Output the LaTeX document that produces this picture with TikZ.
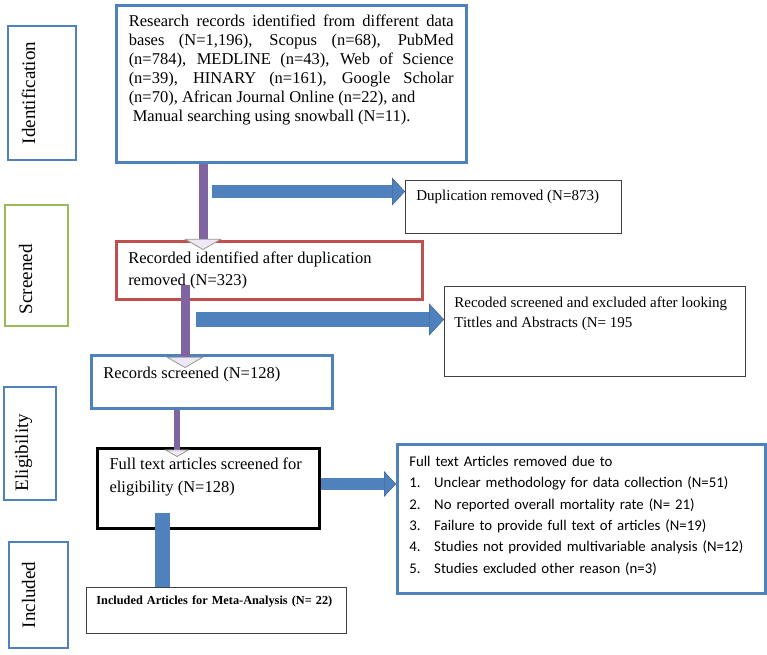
\documentclass[tikz,border=0pt]{standalone}
\usepackage{fontspec}
\setmainfont{Liberation Serif}
\newfontfamily\calibri{Carlito}
\usetikzlibrary{arrows.meta}
\definecolor{blueA}{HTML}{4F81BD}
\definecolor{blueD}{HTML}{385D8A}
\definecolor{redA}{HTML}{C0504D}
\definecolor{greenA}{HTML}{9BBB59}
\definecolor{purpleA}{HTML}{8064A2}
\definecolor{purpleL}{HTML}{EDE8F3}
\tolerance=9999
\hyphenpenalty=10000

\begin{document}
\begin{tikzpicture}[
    x=1pt, y=-1pt,
    box/.style={rectangle, draw, anchor=north west, align=justify, text height=12pt, font=\fontsize{16.5}{19}\selectfont},
    thinbox/.style={box, draw=black!75, line width=0.8pt, text height=11pt, font=\fontsize{15}{20}\selectfont},
    stage/.style={rectangle, draw=blueA, line width=2.5pt, rotate=90, inner sep=0pt, font=\fontsize{19}{20}\selectfont},
    bluearrow/.style={draw=blueA, line width=13pt, -{Triangle[length=0pt 1, width=0pt 2.15, line width=0.4pt, color=blueD, fill=blueA]}},
    purplearrow/.style={draw=purpleA, line width=9pt, -{Triangle[length=0pt 1.25, width=0pt 4.3, line width=0.8pt, color=black!40, fill=purpleL]}},
    bluebar/.style={draw=blueA, line width=15pt}
]
\useasboundingbox (0,0) rectangle (767,654);

% stages (left)
\node[stage, minimum width=134pt, text height=27pt, text depth=41pt] (ident) at (42,93) {Identification};
\node[stage, draw=greenA, minimum width=121pt, text width=121pt, align=left, text height=27pt, text depth=36pt] (screen) at (36.5,265.5) {\hspace*{12pt}Screened};
\node[stage, minimum width=113pt, text width=113pt, align=left, text height=24pt, text depth=28pt] (elig) at (30,443.5) {\hspace*{9pt}Eligibility};
\node[stage, minimum width=106pt, text height=26pt, text depth=33pt] (incl) at (38.5,595) {Included};

% main flow
\node[box, draw=blueA, line width=2.5pt, text width=325pt, inner xsep=12.5pt, inner ysep=9pt, text depth=127pt] (records) at (115,4)
    {Research records identified from different data\linebreak bases (N=1,196), Scopus (n=68), PubMed\linebreak (n=784), MEDLINE (n=43), Web of Science\linebreak (n=39), HINARY (n=161), Google Scholar\linebreak (n=70), African Journal Online (n=22), and\\ \hspace*{4pt}Manual searching using snowball (N=11).};

\node[box, draw=redA, line width=2.5pt, text width=282pt, inner xsep=12pt, inner ysep=10pt, text depth=26pt, font=\fontsize{16.5}{22}\selectfont] (dedup) at (115,240)
    {Recorded identified after duplication\\ removed (N=323)};

\node[box, draw=blueA, line width=2.5pt, text width=217pt, inner xsep=12pt, inner ysep=11pt, text depth=19pt] (screened) at (90,354)
    {Records screened (N=128)};

\node[box, draw=black, line width=3pt, text width=198pt, inner xsep=12pt, inner ysep=9pt, text depth=50pt, font=\fontsize{16.5}{23}\selectfont] (fulltext) at (96,447)
    {Full text articles screened for\\ eligibility (N=128)};

\node[thinbox, align=left, text width=240pt, inner xsep=10pt, inner ysep=8pt, text height=9pt, text depth=21pt, font=\fontsize{12.3}{14}\selectfont\bfseries] (included) at (86,587)
    {Included Articles for Meta-Analysis (N= 22)};

% excluded (right)
\node[thinbox, text width=194pt, inner xsep=11pt, inner ysep=9pt, text depth=24pt] (dup) at (405,180)
    {Duplication removed (N=873)};

\node[thinbox, text width=281pt, inner xsep=10pt, inner ysep=10pt, text depth=59pt] (abstracts) at (444,286)
    {Recoded screened and excluded after looking\\ Tittles and Abstracts (N= 195};

\node[box, draw=blueA, line width=2.5pt, align=left, text width=344pt, inner xsep=12pt, inner ysep=11pt, text height=11pt, text depth=116pt, font=\calibri\fontsize{14.8}{21.4}\selectfont] (removed) at (396,443)
    {Full text Articles removed due to\\
     \makebox[25pt][l]{1.}Unclear methodology for data collection (N=51)\\
     \makebox[25pt][l]{2.}No reported overall mortality rate (N= 21)\\
     \makebox[25pt][l]{3.}Failure to provide full text of articles (N=19)\\
     \makebox[25pt][l]{4.}Studies not provided multivariable analysis (N=12)\\
     \makebox[25pt][l]{5.}Studies excluded other reason (n=3)};

% connectors
\coordinate (p1) at (203,250);
\coordinate (p2s) at (185,285);
\coordinate (p2) at (185,368);
\coordinate (p3) at (177,457);
\coordinate (b1) at (212,191.5);
\coordinate (b2) at (196,319.5);
\coordinate (b3) at (318,484);
\coordinate (c1) at (162.5,513);

\draw[purplearrow] (records.south -| p1) -- (p1);
\draw[bluearrow] (b1) -- (dup.west |- b1);
\draw[purplearrow] (p2s) -- (p2);
\draw[bluearrow, line width=15pt] (b2) -- (abstracts.west |- b2);
\draw[purplearrow, line width=6pt] (screened.south -| p3) -- (p3);
\draw[bluearrow, line width=12pt] (fulltext.east |- b3) -- (removed.west |- b3);
\draw[bluebar] (c1) -- (included.north -| c1);

\end{tikzpicture}
\end{document}
